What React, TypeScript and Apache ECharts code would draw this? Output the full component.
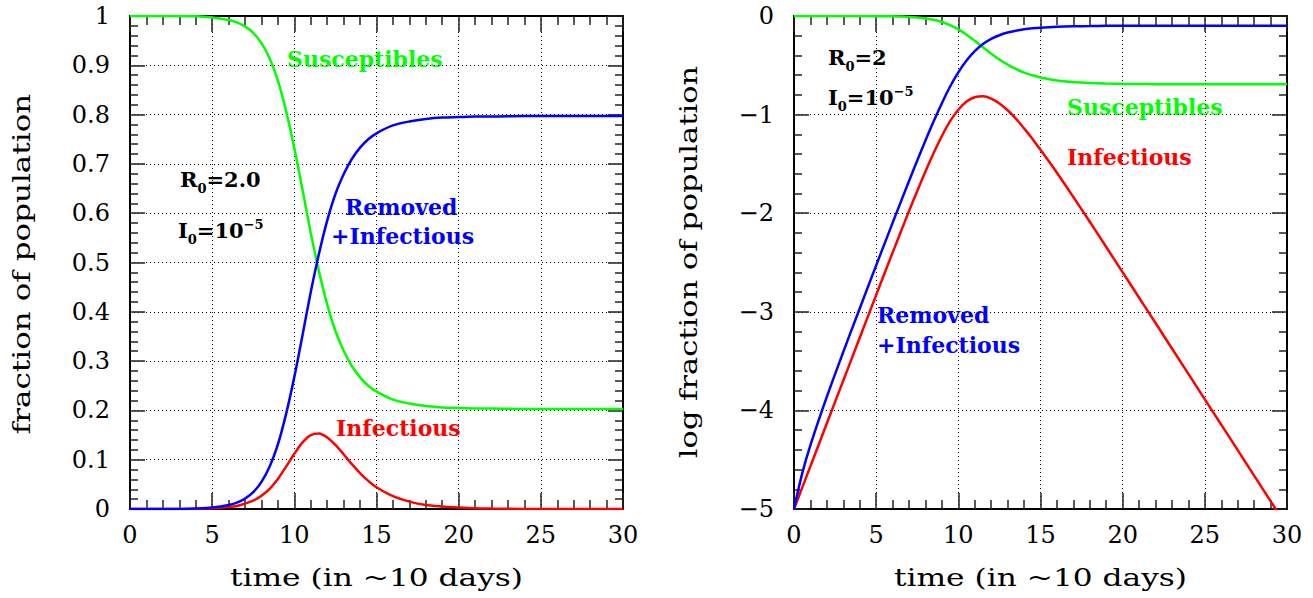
import React, { useEffect, useRef } from "react";
import * as echarts from "echarts";

// time in units of ~10 days
const time = [0, 0.5, 1, 2, 3, 4, 5, 6, 6.5, 7, 7.5, 8, 8.5, 9, 9.5, 10, 10.5, 11, 11.5, 12, 12.5, 13, 13.5, 14, 14.5, 15, 16, 17, 18, 19, 20, 21, 22, 24, 26, 28, 30];

// left panel: fractions of population
const susceptibles = [1, 1, 1, 1, 1, 0.9995, 0.997, 0.992, 0.987, 0.979, 0.966, 0.945, 0.914, 0.869, 0.807, 0.732, 0.647, 0.56, 0.482, 0.415, 0.361, 0.321, 0.29, 0.267, 0.25, 0.238, 0.222, 0.214, 0.209, 0.206, 0.205, 0.204, 0.204, 0.203, 0.203, 0.203, 0.203];
const removedInfectious = [0, 0, 0, 0, 0, 0.001, 0.003, 0.008, 0.013, 0.021, 0.034, 0.055, 0.086, 0.131, 0.193, 0.268, 0.353, 0.44, 0.518, 0.585, 0.639, 0.679, 0.71, 0.733, 0.75, 0.762, 0.778, 0.786, 0.791, 0.794, 0.795, 0.796, 0.796, 0.797, 0.797, 0.797, 0.797];
const infectious = [0, 0, 0, 0, 0, 0.0005, 0.0015, 0.004, 0.006, 0.011, 0.017, 0.027, 0.041, 0.061, 0.086, 0.112, 0.135, 0.15, 0.153, 0.145, 0.13, 0.111, 0.091, 0.073, 0.057, 0.044, 0.026, 0.015, 0.008, 0.005, 0.003, 0.0014, 0.0008, 0.0002, 0, 0, 0];

// right panel: log10 fractions of population
const logSusceptibles = [0, 0, 0, 0, 0, -0.0005, -0.0013, -0.0035, -0.0057, -0.0093, -0.0152, -0.0244, -0.0389, -0.0608, -0.0929, -0.1355, -0.1893, -0.2516, -0.3172, -0.3819, -0.4419, -0.4938, -0.5371, -0.5739, -0.6016, -0.6237, -0.6532, -0.6704, -0.6801, -0.6853, -0.6884, -0.69, -0.691, -0.6917, -0.692, -0.692, -0.692];
const logRemovedInfectious = [-5, -4.639, -4.353, -3.861, -3.407, -2.966, -2.529, -2.098, -1.885, -1.673, -1.465, -1.263, -1.068, -0.884, -0.715, -0.572, -0.452, -0.357, -0.285, -0.233, -0.195, -0.168, -0.149, -0.135, -0.125, -0.118, -0.109, -0.104, -0.102, -0.1, -0.0996, -0.0992, -0.0989, -0.0987, -0.0987, -0.0987, -0.0987];
const logInfectious = [-5, -4.783, -4.566, -4.131, -3.697, -3.263, -2.829, -2.4, -2.188, -1.978, -1.774, -1.576, -1.389, -1.217, -1.067, -0.951, -0.868, -0.824, -0.815, -0.838, -0.887, -0.956, -1.04, -1.14, -1.244, -1.357, -1.59, -1.836, -2.087, -2.343, -2.6, -2.857, -3.114, -3.63, -4.145, -4.662, -5.177];

const xTicks = { min: 0, max: 30, interval: 5 };
const yLinTicks = { min: 0, max: 1, interval: 0.1 };
const yLogTicks = { min: -5, max: 0, interval: 1 };

const FONT = "'DejaVu Serif', serif";
const GREEN = "#00ff00";
const BLUE = "#0000ff";
const RED = "#ff0000";

const pairs = (ys: number[]) => time.map((t, i) => [t, ys[i]]);

function axis(gridIndex: number, position: string, range: any, primary: boolean, isX: boolean, fmt?: (v: number) => string) {
  return {
    type: "value",
    gridIndex,
    position,
    min: range.min,
    max: range.max,
    interval: range.interval,
    axisLine: { show: true, onZero: false, lineStyle: { color: "#000", width: 2 } },
    axisTick: { show: true, inside: true, length: isX ? 16 : 15, lineStyle: { color: "#222", width: 1.5 } },
    minorTick: { show: true, splitNumber: 5, length: isX ? 9 : 8, lineStyle: { color: "#222", width: 1.5 } },
    axisLabel: {
      show: primary,
      margin: isX ? 14 : 20,
      color: "#000",
      fontFamily: FONT,
      fontSize: 24,
      formatter: fmt,
    },
    splitLine: { show: primary, lineStyle: { color: "#000", width: 1, type: [1, 3] } },
  };
}

function label(text: string, x: number, y: number, color: string) {
  return {
    type: "text",
    x,
    y,
    silent: true,
    style: {
      text,
      fill: color,
      font: `bold 22px ${FONT}`,
      textAlign: "left",
      textVerticalAlign: "middle",
      align: "left",
      verticalAlign: "middle",
    },
  };
}

const tok = (size: number, padTop: number) => ({
  fontFamily: FONT,
  fontSize: size,
  fontWeight: "bold",
  lineHeight: size,
  verticalAlign: "top",
  padding: [padTop, 0, 0, 0],
  fill: "#000",
  color: "#000",
});
const richStyle = { m: tok(21, 8), s: tok(13, 21), p: tok(13, 6) };

function param(text: string, x: number, y: number) {
  return {
    type: "text",
    x,
    y,
    silent: true,
    style: {
      text,
      rich: richStyle,
      fill: "#000",
      textAlign: "left",
      textVerticalAlign: "top",
      align: "left",
      verticalAlign: "top",
    },
  };
}

function title(text: string, x: number, y: number, vertical: boolean, stretch: number) {
  return {
    type: "text",
    x,
    y,
    rotation: vertical ? Math.PI / 2 : 0,
    scaleX: stretch,
    silent: true,
    style: {
      text,
      fill: "#000",
      font: `25px ${FONT}`,
      textAlign: "center",
      textVerticalAlign: "middle",
      align: "center",
      verticalAlign: "middle",
    },
  };
}

const linFmt = (v: number) => (v === 0 ? "0" : v === 1 ? "1" : v.toFixed(1));
const logFmt = (v: number) => (v === 0 ? "0" : "\u2212" + Math.abs(Math.round(v)));

function line(name: string, xi: number, data: number[], color: string) {
  return {
    type: "line",
    name,
    xAxisIndex: xi,
    yAxisIndex: xi,
    data: pairs(data),
    showSymbol: false,
    smooth: 0.3,
    clip: true,
    lineStyle: { color, width: 2.5 },
    itemStyle: { color },
  };
}

export default function App() {
  const ref = useRef<HTMLDivElement>(null);
  useEffect(() => {
    document.body.style.margin = "0";
    if (!ref.current) return;
    const chart = echarts.init(ref.current, undefined, { renderer: "svg" });
    chart.setOption({
      animation: false,
      backgroundColor: "#fff",
      grid: [
        { left: 130, top: 16, width: 493, height: 493 },
        { left: 794, top: 16, width: 493, height: 493 },
      ],
      xAxis: [
        axis(0, "bottom", xTicks, true, true),
        axis(0, "top", xTicks, false, true),
        axis(1, "bottom", xTicks, true, true),
        axis(1, "top", xTicks, false, true),
      ],
      yAxis: [
        axis(0, "left", yLinTicks, true, false, linFmt),
        axis(0, "right", yLinTicks, false, false),
        axis(1, "left", yLogTicks, true, false, logFmt),
        axis(1, "right", yLogTicks, false, false),
      ],
      series: [
        line("Susceptibles", 0, susceptibles, GREEN),
        line("Infectious", 0, infectious, RED),
        line("Removed+Infectious", 0, removedInfectious, BLUE),
        line("log Susceptibles", 2, logSusceptibles, GREEN),
        line("log Infectious", 2, logInfectious, RED),
        line("log Removed+Infectious", 2, logRemovedInfectious, BLUE),
      ],
      graphic: [
        label("Susceptibles", 287, 59, GREEN),
        label("Removed", 345, 207, BLUE),
        label("+Infectious", 331, 236, BLUE),
        label("Infectious", 336, 428, RED),
        param("{m|R}{s|0}{m|=2.0}", 180, 161),
        param("{m|I}{s|0}{m|=10}{p|\u22125}", 178, 212),
        label("Susceptibles", 1067, 107, GREEN),
        label("Infectious", 1067, 157, RED),
        label("Removed", 877, 315, BLUE),
        label("+Infectious", 877, 345, BLUE),
        param("{m|R}{s|0}{m|=2}", 828, 39),
        param("{m|I}{s|0}{m|=10}{p|\u22125}", 828, 79),
        title("time (in ~10 days)", 376.5, 578, false, 1.25),
        title("time (in ~10 days)", 1040.5, 578, false, 1.25),
        title("fraction of population", 22, 264, true, 1.24),
        title("log fraction of population", 688, 262, true, 1.22),
      ],
    });
    return () => chart.dispose();
  }, []);
  return <div ref={ref} style={{ width: 1313, height: 598 }} />;
}
